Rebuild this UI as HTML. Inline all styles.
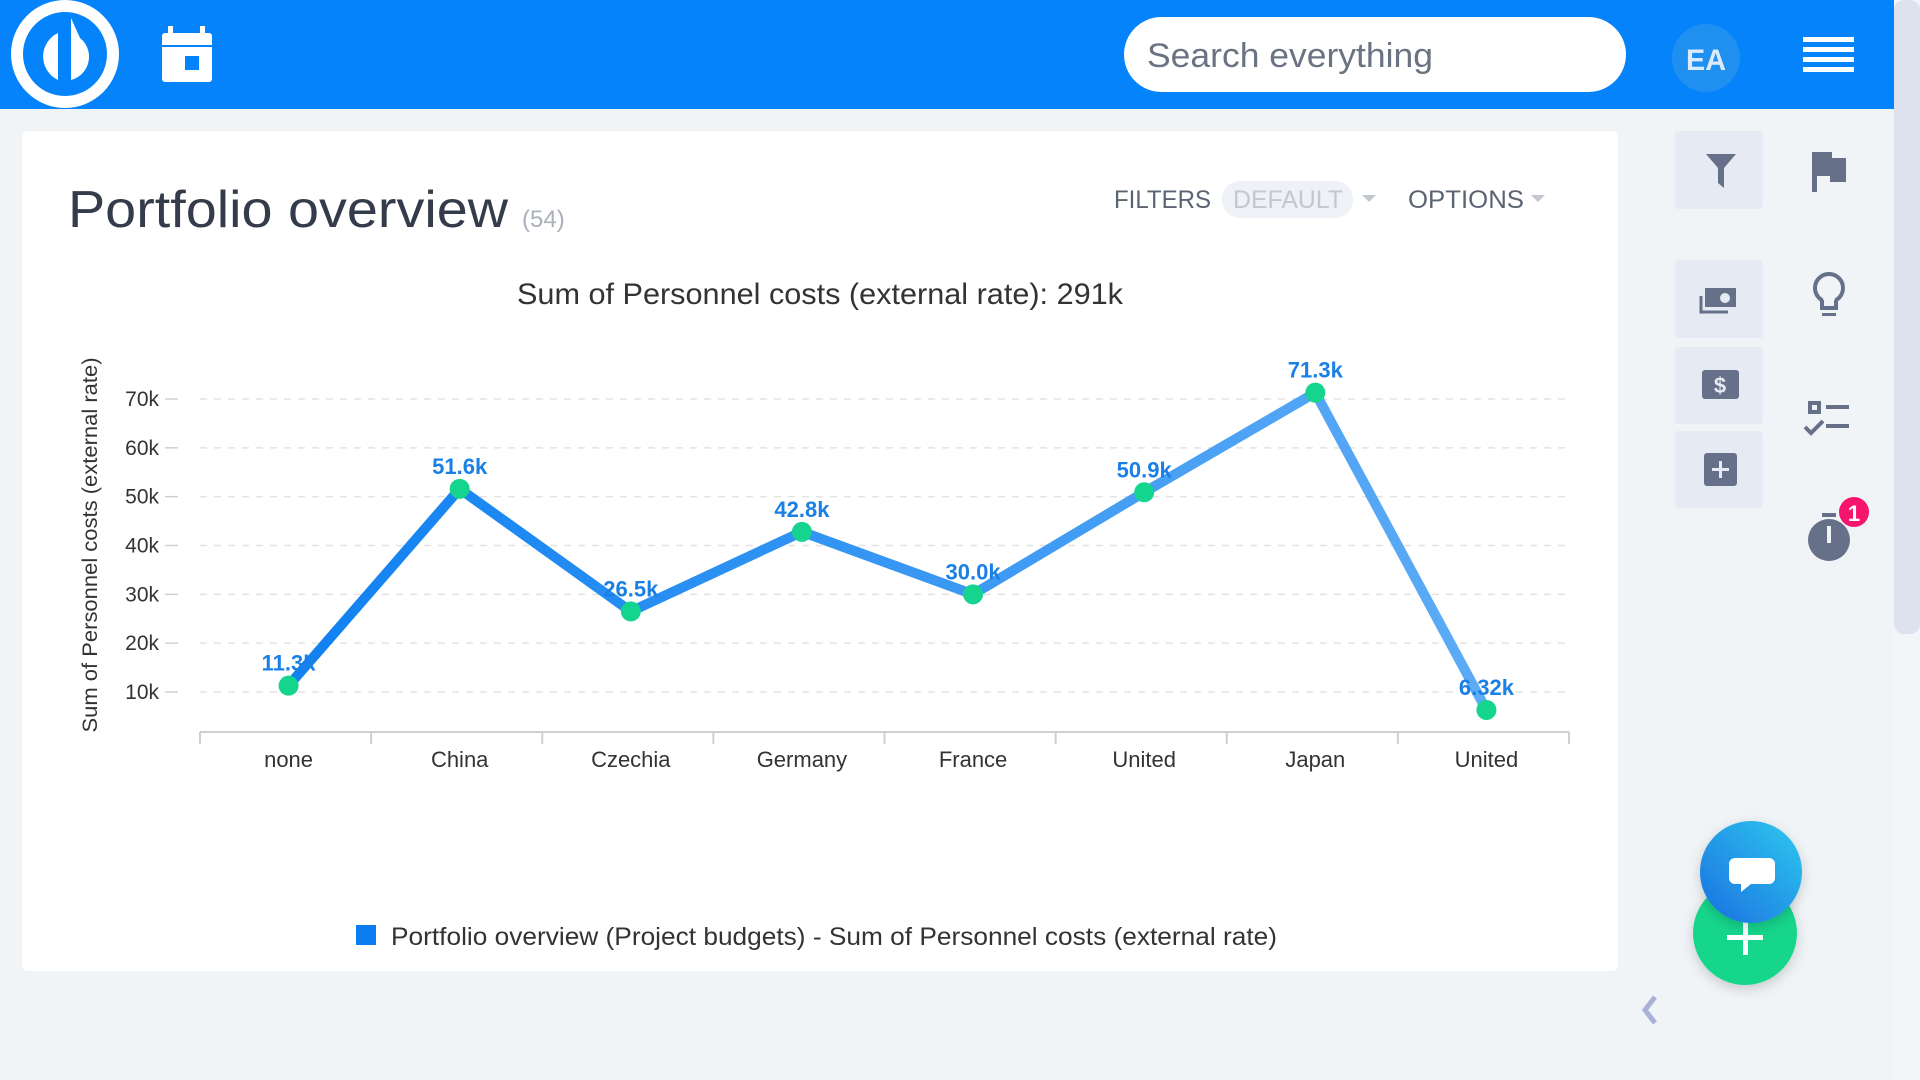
<!DOCTYPE html>
<html><head><meta charset="utf-8"><title>Portfolio overview</title>
<style>
html,body{margin:0;padding:0;width:1920px;height:1080px;overflow:hidden;background:#f0f4f7;font-family:"Liberation Sans",sans-serif;}
svg{display:block}
</style></head>
<body>
<svg id="page" width="1920" height="1080" viewBox="0 0 1920 1080" xmlns="http://www.w3.org/2000/svg">
  <defs>
    <linearGradient id="lineGrad" x1="200" y1="0" x2="1569" y2="0" gradientUnits="userSpaceOnUse">
      <stop offset="0" stop-color="#0a7ef0"/>
      <stop offset="1" stop-color="#62aef6"/>
    </linearGradient>
    <linearGradient id="chatGrad" x1="0" y1="1" x2="1" y2="0">
      <stop offset="0" stop-color="#1a6fe0"/>
      <stop offset="1" stop-color="#2ec9ee"/>
    </linearGradient>
    <filter id="sh" x="-50%" y="-50%" width="200%" height="200%"><feDropShadow dx="0" dy="4" stdDeviation="6" flood-color="#000" flood-opacity="0.18"/></filter>
  </defs>
  <rect x="0" y="0" width="1920" height="1080" fill="#f0f4f7"/>
  <g>
    <rect x="1894" y="0" width="26" height="1080" fill="#f3f5f9"/>
    <rect x="1894" y="0" width="26" height="634" rx="10" fill="#dde2ee"/>
  </g>
  <g>
    <rect x="0" y="0" width="1894" height="109" fill="#0583fa"/>
    <g>
      <circle cx="65" cy="54" r="48" fill="none" stroke="#fff" stroke-width="12"/>
      <path d="M58 33 A26 26 0 0 0 58 80 Z" fill="#fff"/>
      <path d="M71 18 L71 80 A24 24 0 0 0 80 38 Z" fill="#fff"/>
    </g>
    <g>
      <rect x="162" y="33" width="50" height="49" rx="3" fill="#fff"/>
      <rect x="168" y="26" width="5" height="9" fill="#fff"/>
      <rect x="200" y="26" width="5" height="9" fill="#fff"/>
      <rect x="162" y="45" width="50" height="2" fill="#0583fa"/>
      <rect x="185" y="56" width="14" height="14" fill="#0583fa"/>
    </g>
    <g>
      <rect x="1124" y="17" width="502" height="75" rx="37.5" fill="#fff"/>
      <text x="1147" y="67" font-size="34" fill="#6a7382" textLength="286" lengthAdjust="spacingAndGlyphs">Search everything</text>
    </g>
    <g>
      <circle cx="1706" cy="58" r="34" fill="#1f8ff0"/>
      <text x="1706" y="70" font-size="30" font-weight="bold" fill="#dcebfb" text-anchor="middle" textLength="40" lengthAdjust="spacingAndGlyphs">EA</text>
    </g>
    <g fill="#fff">
      <rect x="1803" y="37" width="51" height="5"/>
      <rect x="1803" y="47" width="51" height="5"/>
      <rect x="1803" y="57" width="51" height="5"/>
      <rect x="1803" y="67" width="51" height="5"/>
    </g>
  </g>
  <rect x="22" y="131" width="1596" height="840" rx="6" fill="#fff"/>
  <text x="68" y="227" font-size="52" fill="#343c4c" textLength="440" lengthAdjust="spacingAndGlyphs">Portfolio overview</text>
  <text x="522" y="227" font-size="24" fill="#a9b0bb">(54)</text>
  <text x="1114" y="208" font-size="25" fill="#5b6472" textLength="97" lengthAdjust="spacingAndGlyphs">FILTERS</text>
  <g>
    <rect x="1222" y="181" width="131" height="37" rx="18" fill="#eef1f5"/>
    <text x="1233" y="208" font-size="25" fill="#c3c8d0" textLength="110" lengthAdjust="spacingAndGlyphs">DEFAULT</text>
    <path d="M1362 195 l14 0 l-7 7 z" fill="#c3c8d0"/>
  </g>
  <g>
    <text x="1408" y="208" font-size="25" fill="#5b6472" textLength="116" lengthAdjust="spacingAndGlyphs">OPTIONS</text>
    <path d="M1531 195 l14 0 l-7 7 z" fill="#c3c8d0"/>
  </g>
  <text x="820" y="304" font-size="30" fill="#333" text-anchor="middle" textLength="606" lengthAdjust="spacingAndGlyphs">Sum of Personnel costs (external rate): 291k</text>
  <g id="chart"></g>
  <g>
    <rect x="356" y="925" width="20" height="20" fill="#0a7ef0"/>
    <text x="391" y="945" font-size="25" fill="#333" textLength="886" lengthAdjust="spacingAndGlyphs">Portfolio overview (Project budgets) - Sum of Personnel costs (external rate)</text>
  </g>
  <g>
    <rect x="1675" y="131" width="88" height="78" rx="3" fill="#e6ebf3"/>
    <path d="M1706 154 h30 l-12 14 v20 l-6 -5 v-15 z" fill="#667088"/>
  </g>
  <g>
    <rect x="1675" y="260" width="88" height="78" rx="3" fill="#e6ebf3"/>
    <rect x="1705" y="288" width="31" height="19" fill="#667088"/>
    <circle cx="1725" cy="298" r="5" fill="#e6ebf3"/>
    <path d="M1701 296 v16 h27" stroke="#667088" stroke-width="3" fill="none"/>
  </g>
  <g>
    <rect x="1675" y="347" width="88" height="77" rx="3" fill="#e6ebf3"/>
    <rect x="1702" y="370" width="37" height="29" rx="3" fill="#667088"/>
    <text x="1720" y="393" font-size="22" font-weight="bold" fill="#e6ebf3" text-anchor="middle">$</text>
  </g>
  <g>
    <rect x="1675" y="431" width="88" height="77" rx="3" fill="#e6ebf3"/>
    <rect x="1704" y="453" width="33" height="33" rx="3" fill="#667088"/>
    <rect x="1712" y="468" width="17" height="3" fill="#e6ebf3"/>
    <rect x="1719" y="461" width="3" height="17" fill="#e6ebf3"/>
  </g>
  <g fill="#667088">
    <rect x="1812" y="152" width="5" height="40"/>
    <path d="M1812 152 h20 v6 h14 v24 h-16 v-6 h-18 z"/>
  </g>
  <g>
    <circle cx="1829" cy="288" r="14" fill="none" stroke="#667088" stroke-width="4"/>
    <rect x="1823" y="299" width="12" height="9" fill="#f0f4f7"/>
    <path d="M1822 300 v8 h14 v-8" fill="none" stroke="#667088" stroke-width="4"/>
    <rect x="1822" y="313" width="14" height="3" fill="#667088"/>
  </g>
  <g fill="#667088">
    <rect x="1808" y="401" width="13" height="13"/>
    <rect x="1812" y="405" width="5" height="5" fill="#f0f4f7"/>
    <rect x="1826" y="405" width="23" height="4"/>
    <rect x="1826" y="424" width="23" height="4"/>
    <path d="M1805 427 l6 6 l12 -12" stroke="#667088" stroke-width="4" fill="none"/>
  </g>
  <g>
    <rect x="1822" y="513" width="14" height="4" fill="#667088"/>
    <circle cx="1829" cy="540" r="21" fill="#667088"/>
    <rect x="1827" y="526" width="4" height="17" fill="#f0f4f7"/>
    <circle cx="1854" cy="512" r="15" fill="#f5156d"/>
    <text x="1854" y="521" font-size="22" font-weight="bold" fill="#fff" text-anchor="middle">1</text>
  </g>
  <g filter="url(#sh)">
    <circle cx="1745" cy="933" r="52" fill="#17d68c"/>
    <rect x="1727" y="935" width="36" height="5" fill="#fff"/>
    <rect x="1743" y="919" width="5" height="36" fill="#fff"/>
  </g>
  <g filter="url(#sh)">
    <circle cx="1751" cy="872" r="51" fill="url(#chatGrad)"/>
    <path d="M1735 858 h34 a6 6 0 0 1 6 6 v14 a6 6 0 0 1 -6 6 h-18 l-10 8 v-8 h-6 a6 6 0 0 1 -6 -6 v-14 a6 6 0 0 1 6 -6 z" fill="#fff"/>
  </g>
  <path d="M1655 997 l-10 13 l10 13" stroke="#a9b2d6" stroke-width="5" fill="none"/>
</svg>
<script>
const categories = ["none","China","Czechia","Germany","France","United","Japan","United"];
const seriesValues = [11300, 51600, 26500, 42800, 30000, 50900, 71300, 6320];
const valueLabels = ["11.3k","51.6k","26.5k","42.8k","30.0k","50.9k","71.3k","6.32k"];
const yTicks = [10000,20000,30000,40000,50000,60000,70000];
const yTickLabels = ["10k","20k","30k","40k","50k","60k","70k"];

const NS = "http://www.w3.org/2000/svg";
const chart = document.getElementById('chart');
const plotL = 200, plotR = 1569, axisY = 732;
const bandW = (plotR - plotL) / categories.length;
function xScale(i){ return plotL + 3 + bandW * (i + 0.5); }
function yScale(v){ return 692 - (v - 10000) * (293 / 60000); }
function mk(tag, attrs){ const e = document.createElementNS(NS, tag); for (const k in attrs) e.setAttribute(k, attrs[k]); chart.appendChild(e); return e; }

yTicks.forEach((t, i) => {
  const y = yScale(t);
  const g = mk('line', {x1: plotL, x2: plotR, y1: y, y2: y, stroke: '#e3e3e3', 'stroke-width': 1.5, 'stroke-dasharray': '7,7'});
  
  
  const tk = mk('line', {x1: 165, x2: 178, y1: y, y2: y, stroke: '#d0d0d0', 'stroke-width': 1.5});
  
  
  const lb = mk('text', {x: 159, y: y + 7, 'font-size': 21, fill: '#333', 'text-anchor': 'end'});
  lb.textContent = yTickLabels[i];
  
  
});
const yt = mk('text', {x: 0, y: 0, 'font-size': 21, fill: '#333', 'text-anchor': 'middle', textLength: 375, lengthAdjust: 'spacingAndGlyphs', transform: 'translate(97,545) rotate(-90)'});
yt.textContent = 'Sum of Personnel costs (external rate)';



const ax = mk('line', {x1: plotL, x2: plotR, y1: axisY, y2: axisY, stroke: '#cfcfcf', 'stroke-width': 2});


for (let i = 0; i <= categories.length; i++) {
  const x = plotL + bandW * i;
  const t = mk('line', {x1: x, x2: x, y1: axisY, y2: axisY + 12, stroke: '#cfcfcf', 'stroke-width': 2});
  
  
}
categories.forEach((c, i) => {
  const t = mk('text', {x: xScale(i), y: 767, 'font-size': 22, fill: '#333', 'text-anchor': 'middle'});
  t.textContent = c;
  
  
});

const pts = seriesValues.map((v, i) => xScale(i) + ',' + yScale(v)).join(' ');
const pl = mk('polyline', {points: pts, fill: 'none', stroke: 'url(#lineGrad)', 'stroke-width': 10, 'stroke-linejoin': 'miter'});



seriesValues.forEach((v, i) => {
  const c = mk('circle', {cx: xScale(i), cy: yScale(v), r: 10, fill: '#14d48e'});
  
  
});
seriesValues.forEach((v, i) => {
  const t = mk('text', {x: xScale(i), y: yScale(v) - 15, 'font-size': 22, 'font-weight': 'bold', fill: '#1a80e6', 'text-anchor': 'middle'});
  t.textContent = valueLabels[i];
  
  
});
</script>
</body></html>
